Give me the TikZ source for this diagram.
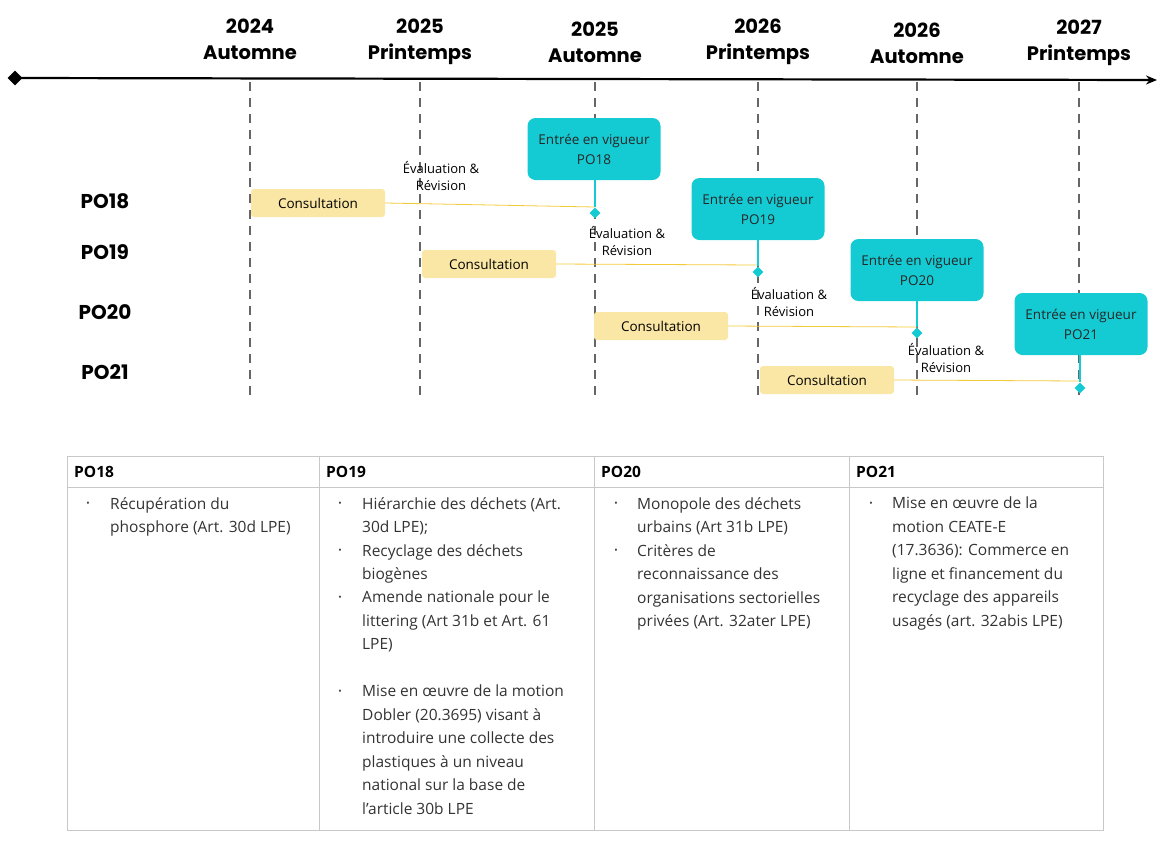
\documentclass[tikz,border=0pt]{standalone}
\usepackage{fontspec}
\setmainfont{Open Sans}
\newfontfamily\pop{Poppins}
\usetikzlibrary{shapes.geometric,arrows.meta}
\definecolor{teal1}{HTML}{15CBD3}
\definecolor{cons}{HTML}{FBE7A5}
\definecolor{consl}{HTML}{F2CB3A}
\definecolor{grid}{HTML}{C8C8C8}
\begin{document}
\begin{tikzpicture}[x=1pt,y=-1pt,
  hdr/.style={font=\pop\bfseries\fontsize{19.5}{26}\selectfont,align=center,text=black},
  rowlab/.style={font=\pop\bfseries\fontsize{20}{22}\selectfont,text=black},
  consbox/.style={fill=cons,rounded corners=3pt,minimum width=134pt,minimum height=28pt,font=\fontsize{13.5}{15}\selectfont},
  ent/.style={fill=teal1,rounded corners=8pt,minimum width=133pt,minimum height=62pt,align=center,font=\fontsize{13.5}{20}\selectfont,text=black!85},
  dia/.style={diamond,fill=teal1,inner sep=0pt,minimum size=11pt},
  eval/.style={align=center,font=\fontsize{13}{17}\selectfont},
  vline/.style={gray!80!black,dashed,dash pattern=on 9pt off 7pt,line width=1.4pt},
  cline/.style={consl,line width=0.8pt},
  tline/.style={teal1,line width=2pt},
  cell/.style={anchor=north west,align=left,inner sep=0pt,font=\fontsize{15.5}{23.5}\selectfont,text=black!80},
  bul/.style={anchor=north,inner sep=0pt,font=\fontsize{15.5}{23.5}\selectfont,text=black!80},
  th/.style={anchor=west,inner sep=0pt,font=\fontsize{15.5}{18}\selectfont\bfseries}]
\useasboundingbox (0,0) rectangle (1168,855);
% axis
\coordinate (a0) at (15,78); \coordinate (a1) at (1157,80);
\draw[line width=2.2pt,-{Stealth[length=11pt,width=9pt]}] (a0) -- (a1);
\node[diamond,fill=black,inner sep=0pt,minimum size=15pt] at (a0) {};
% verticals and headers
\foreach \x/\yr/\s/\n/\y in {250/2024/Automne/1/39,420/2025/Printemps/2/42,595/2025/Automne/3/42,758/2026/Printemps/4/42,917/2026/Automne/5/43,1079/2027/Printemps/6/43}{
  \coordinate (t\n) at (\x,82); \coordinate (b\n) at (\x,398);
  \draw[vline] (t\n) -- (b\n);
  \node[hdr] (h\n) at (\x,\y) {\yr\\\s};
}
% row labels
\node[rowlab] (r18) at (105,201) {PO18};
\node[rowlab] (r19) at (105,252) {PO19};
\node[rowlab] (r20) at (105,312) {PO20};
\node[rowlab] (r21) at (105,372) {PO21};
% consultations
\node[consbox] (c18) at (318,203) {Consultation};
\node[consbox] (c19) at (489,264) {Consultation};
\node[consbox] (c20) at (661,326) {Consultation};
\node[consbox] (c21) at (827,380) {Consultation};
% diamonds
\node[dia] (d18) at (595,213) {};
\node[dia] (d19) at (758,272) {};
\node[dia] (d20) at (917,333) {};
\node[dia] (d21) at (1080,388) {};
% entries
\node[ent] (e18) at (594,149) {Entrée en vigueur\\PO18};
\node[ent] (e19) at (758,209) {Entrée en vigueur\\PO19};
\node[ent] (e20) at (917,270) {Entrée en vigueur\\PO20};
\node[ent] (e21) at (1081,324) {Entrée en vigueur\\PO21};
\coordinate (k18) at (595,207); \coordinate (k19) at (758,265);
\coordinate (k20) at (917,327); \coordinate (k21) at (1080,381);
\draw[cline] (c18.east) -- (k18);
\draw[cline] (c19.east) -- (k19);
\draw[cline] (c20.east) -- (k20);
\draw[cline] (c21.east) -- (k21);
\draw[tline] (e18.south -| d18) -- (d18);
\draw[tline] (e19.south -| d19) -- (d19);
\draw[tline] (e20.south -| d20) -- (d20);
\draw[tline] (e21.south -| d21) -- (d21);
% evaluation labels
\node[eval] (v1) at (441,176) {Évaluation \&\\Révision};
\node[eval] (v2) at (627,241) {Évaluation \&\\Révision};
\node[eval] (v3) at (789,302) {Évaluation \&\\Révision};
\node[eval] (v4) at (946,358) {Évaluation \&\\Révision};
% table
\draw[grid,line width=0.8pt] (67,456) rectangle (1103,830);
\draw[grid,line width=0.8pt] (67,487) -- (1103,487);
\foreach \x in {319,594,849}{\draw[grid,line width=0.8pt] (\x,456) -- (\x,830);}
\node[th] (th1) at (74,472) {PO18};
\node[th] (th2) at (326,472) {PO19};
\node[th] (th3) at (601,472) {PO20};
\node[th] (th4) at (856,472) {PO21};
% col1
\node[bul] at (88,502) {\fontsize{9}{10}\selectfont•};
\node[cell] (p1) at (110,497) {Récupération du\\phosphore (Art. 30d LPE)};
% col2
\node[bul] at (340,502) {\fontsize{9}{10}\selectfont•};
\node[cell] at (362,497) {Hiérarchie des déchets (Art.\\30d LPE);};
\node[bul] at (340,549) {\fontsize{9}{10}\selectfont•};
\node[cell] at (362,544) {Recyclage des déchets\\biogènes};
\node[bul] at (340,596) {\fontsize{9}{10}\selectfont•};
\node[cell] at (362,591) {Amende nationale pour le\\littering (Art 31b et Art. 61\\LPE)};
\node[bul] at (340,690) {\fontsize{9}{10}\selectfont•};
\node[cell] at (362,685) {Mise en œuvre de la motion\\Dobler (20.3695) visant à\\introduire une collecte des\\plastiques à un niveau\\national sur la base de\\l'article 30b LPE};
% col3
\node[bul] at (616,502) {\fontsize{9}{10}\selectfont•};
\node[cell] at (637,497) {Monopole des déchets\\urbains (Art 31b LPE)};
\node[bul] at (616,549) {\fontsize{9}{10}\selectfont•};
\node[cell] at (637,544) {Critères de\\reconnaissance des\\organisations sectorielles\\privées (Art. 32ater LPE)};
% col4
\node[bul] at (871,502) {\fontsize{9}{10}\selectfont•};
\node[cell] at (892,497) {Mise en œuvre de la\\motion CEATE-E\\(17.3636): Commerce en\\ligne et financement du\\recyclage des appareils\\usagés (art. 32abis LPE)};
\end{tikzpicture}
\end{document}
